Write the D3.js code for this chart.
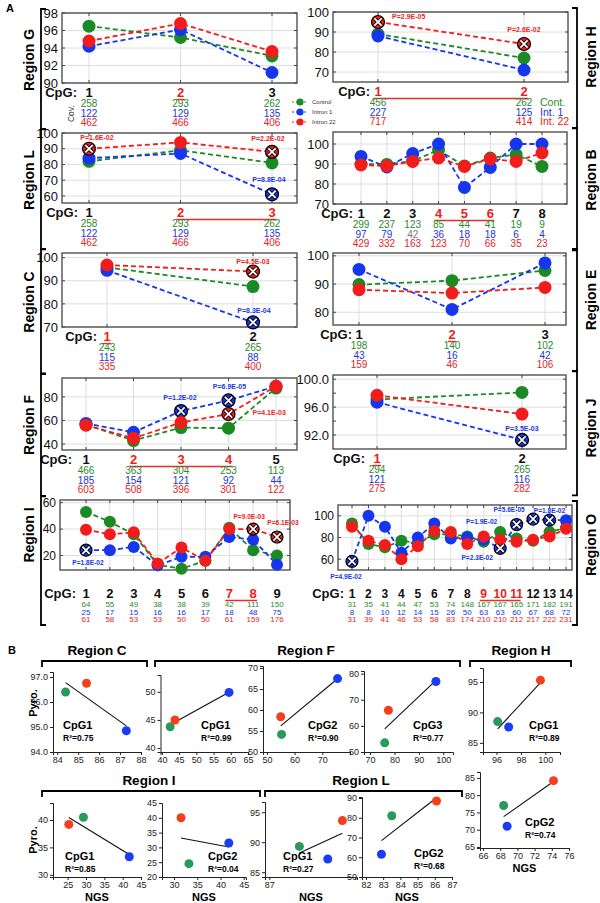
<!DOCTYPE html>
<html>
<head>
<meta charset="utf-8">
<script src="https://cdn.jsdelivr.net/npm/d3@7"></script>
<style>
body { margin: 0; background: #fff; }
</style>
</head>
<body>
<script>
// ---------- panel A: methylation (%) per CpG; series order = control, intron 1, intron 22
var cpgG = ["1", "2", "3"];
var ctrlG = [96.5, 95.2, 93.1], int1G = [94.2, 96.1, 91.2], int22G = [94.8, 96.8, 93.6];
var covG = [[258, 293, 262], [122, 129, 135], [462, 466, 406]];
var sigG = ["2"], pvalG = [];

var cpgH = ["1", "2"];
var ctrlH = [89, 77], int1H = [88, 71], int22H = [95, 84];
var covH = [[456, 262], [227, 125], [717, 414]];
var sigH = ["1", "2"];
var pvalH = [{cpg: "1", s: 2, p: "P=2.9E-05"}, {cpg: "2", s: 2, p: "P=2.6E-02"}];

var cpgL = ["1", "2", "3"];
var ctrlL = [82, 89, 81], int1L = [84, 87, 61], int22L = [90, 94, 88];
var covL = [[258, 293, 262], [122, 129, 135], [462, 466, 406]];
var sigL = ["2", "3"];
var pvalL = [{cpg: "1", s: 2, p: "P=1.6E-02"}, {cpg: "3", s: 2, p: "P=2.2E-02"}, {cpg: "3", s: 1, p: "P=8.8E-04"}];

var cpgB = ["1", "2", "3", "4", "5", "6", "7", "8"];
var ctrlB = [90, 89.8, 91.5, 97, 89, 93, 94.7, 88.8];
var int1B = [93.8, 88.5, 95.2, 100, 78.3, 88.3, 100, 100];
var int22B = [89.5, 89, 91.3, 93, 88.8, 92.5, 91.3, 95.5];
var covB = [[299, 237, 123, 85, 44, 41, 19, 9], [97, 79, 42, 36, 18, 18, 6, 4], [429, 332, 163, 123, 70, 66, 35, 23]];
var sigB = ["4", "5", "6"], pvalB = [];

var cpgC = ["1", "2"];
var ctrlC = [95.8, 87.5], int1C = [94.5, 72], int22C = [96.8, 94];
var covC = [[243, 265], [115, 88], [335, 400]];
var sigC = ["1"];
var pvalC = [{cpg: "2", s: 2, p: "P=4.5E-03"}, {cpg: "2", s: 1, p: "P=8.3E-04"}];

var cpgE = ["1", "2", "3"];
var ctrlE = [89.8, 91.2, 94.8], int1E = [95.2, 81, 97.5], int22E = [88, 86.8, 88.8];
var covE = [[198, 140, 102], [43, 16, 42], [159, 46, 106]];
var sigE = ["2"], pvalE = [];

var cpgF = ["1", "2", "3", "4", "5"];
var ctrlF = [56.5, 43, 54, 53.5, 87.5], int1F = [57.5, 50, 68, 77, 89], int22F = [56, 45, 58.3, 65.5, 89];
var covF = [[466, 363, 304, 253, 113], [185, 154, 121, 92, 44], [603, 508, 396, 301, 122]];
var sigF = ["2", "3", "4"];
var pvalF = [{cpg: "3", s: 1, p: "P=1.2E-02"}, {cpg: "4", s: 1, p: "P=6.9E-05"}, {cpg: "4", s: 2, p: "P=4.1E-03"}];

var cpgJ = ["1", "2"];
var ctrlJ = [97.1, 98.1], int1J = [96.7, 91.3], int22J = [97.7, 95];
var covJ = [[294, 265], [121, 116], [275, 282]];
var sigJ = ["1"];
var pvalJ = [{cpg: "2", s: 1, p: "P=3.5E-03"}];

var cpgI = ["1", "2", "3", "4", "5", "6", "7", "8", "9"];
var ctrlI = [53, 45.5, 36, 13, 10, 16, 41, 24, 20];
var int1I = [24, 24, 26.5, 12.5, 19, 19, 34, 32, 13];
var int22I = [39.5, 36, 37.5, 14, 26, 16, 40, 40, 34];
var covI = [[64, 55, 49, 38, 38, 39, 42, 111, 150], [25, 17, 15, 16, 16, 17, 18, 48, 75], [61, 58, 53, 53, 50, 50, 61, 159, 176]];
var sigI = ["7", "8"];
var pvalI = [{cpg: "1", s: 1, p: "P=1.8E-02"}, {cpg: "8", s: 2, p: "P=9.0E-03"}, {cpg: "9", s: 2, p: "P=6.1E-03"}];

var cpgO = ["1", "2", "3", "4", "5", "6", "7", "8", "9", "10", "11", "12", "13", "14"];
var ctrlO = [93, 74, 71, 77, 75, 83, 83, 81, 76, 85, 79, 77, 85, 89];
var int1O = [58, 100, 90, 66, 80, 93, 79, 80, 78, 70, 92, 97, 96, 96];
var int22O = [90, 77, 73, 60, 72, 86, 85, 74, 81, 78, 76, 78, 81, 88];
var covO = [[31, 35, 41, 44, 47, 53, 74, 148, 167, 167, 165, 171, 182, 191],
            [8, 8, 10, 12, 14, 15, 26, 50, 63, 63, 60, 67, 68, 72],
            [31, 39, 41, 46, 53, 58, 83, 174, 210, 210, 212, 217, 222, 231]];
var sigO = ["9", "10", "11"];
var pvalO = [{cpg: "1", s: 1, p: "P=4.9E-02"}, {cpg: "10", s: 1, p: "P=2.3E-02"}, {cpg: "11", s: 1, p: "P=1.9E-02"},
             {cpg: "12", s: 1, p: "P=5.6E-05"}, {cpg: "13", s: 1, p: "P=1.8E-02"}];

var seriesNames = ["Control", "Intron 1", "Intron 22"];
var seriesTags = ["Cont.", "Int. 1", "Int. 22"];

// ---------- panel B: NGS (x) vs pyrosequencing (y); order = control, intron 1, intron 22
var ngsC1 = [84.4, 87.3, 85.4], pyroC1 = [96.4, 94.85, 96.75];
var ngsF1 = [42.4, 59.5, 43.8], pyroF1 = [43.8, 49.9, 45];
var ngsF2 = [55.3, 75.5, 55], pyroF2 = [54.2, 67.5, 58.4];
var ngsF3 = [76, 97, 77.5], pyroF3 = [53.5, 77, 66];
var ngsH1 = [96.1, 97, 99.6], pyroH1 = [88.5, 87.6, 95.3];
var ngsI1 = [29.3, 41.8, 25.3], pyroI1 = [40.5, 33.3, 39.2];
var ngsI2 = [33.2, 41.8, 31.5], pyroI2 = [24.5, 31.5, 40];
var ngsL1 = [87.35, 87.68, 87.85], pyroL1 = [89.3, 87.2, 93.6];
var ngsL2 = [83.5, 82.9, 86.1], pyroL2 = [81, 61.5, 88.5];
var ngsH2 = [68.4, 68.8, 74.2], pyroH2 = [77, 71, 84.2];
var scatCpg = ["CpG1", "CpG1", "CpG2", "CpG3", "CpG1", "CpG1", "CpG2", "CpG1", "CpG2", "CpG2"];
var scatR2 = ["0.75", "0.99", "0.90", "0.77", "0.89", "0.85", "0.04", "0.27", "0.68", "0.74"];

// ---------- drawing
var FONT = "'Liberation Sans', Arial, sans-serif";
var NARROW = "'Liberation Sans Narrow', 'Liberation Sans', Arial, sans-serif";
var COL = ["#1b8a24", "#1636ee", "#f31c1c"];
var COVCOL = ["#2b8a2b", "#2233dd", "#e62424"];
var BCOL = ["#2a9a5c", "#1a3cf5", "#f2401e"];

var svg = d3.select("body").append("svg")
  .attr("width", 600).attr("height", 903)
  .style("font-family", FONT);

var panelsA = [
  {cpg: cpgG, vals: [ctrlG, int1G, int22G], cov: covG, sig: sigG, pv: pvalG, name: "Region G",
   side: "L", x0: 62, x1: 297, y0: 13, y1: 83, xr: [89, 272], yd: [90, 98], ticks: [90, 92, 94, 96, 98],
   cpgEnd: 77, labY: 60, covLabel: true, pOff: []},
  {cpg: cpgH, vals: [ctrlH, int1H, int22H], cov: covH, sig: sigH, pv: pvalH, name: "Region H",
   side: "R", x0: 333, x1: 568, y0: 12, y1: 82, xr: [378, 524], yd: [65, 100], ticks: [70, 80, 90, 100],
   cpgEnd: 370, labY: 57, covTags: true, pOff: [[14, -3, "start"], [0, -12]]},
  {cpg: cpgL, vals: [ctrlL, int1L, int22L], cov: covL, sig: sigL, pv: pvalL, name: "Region L",
   side: "L", x0: 62, x1: 297, y0: 133, y1: 203, xr: [89, 272], yd: [55.5, 100], ticks: [60, 70, 80, 90, 100],
   cpgEnd: 78, labY: 180, pOff: [[8, -8.5], [-4, -11], [-3, -12]]},
  {cpg: cpgB, vals: [ctrlB, int1B, int22B], cov: covB, sig: sigB, pv: pvalB, name: "Region B",
   side: "R", x0: 333, x1: 567, y0: 132, y1: 204, xr: [361, 542], yd: [70, 106], ticks: [70, 80, 90, 100],
   cpgEnd: 353, labY: 180, grayCov: [1, 2], pOff: []},
  {cpg: cpgC, vals: [ctrlC, int1C, int22C], cov: covC, sig: sigC, pv: pvalC, name: "Region C",
   side: "L", x0: 62, x1: 297, y0: 253, y1: 327, xr: [107, 253], yd: [70, 102], ticks: [70, 80, 90, 100],
   cpgEnd: 97, labY: 302, pOff: [[0, -7.5], [1, -9]]},
  {cpg: cpgE, vals: [ctrlE, int1E, int22E], cov: covE, sig: sigE, pv: pvalE, name: "Region E",
   side: "R", x0: 333, x1: 566, y0: 253, y1: 325, xr: [359, 545], yd: [75.5, 101], ticks: [80, 90, 100],
   cpgEnd: 352, labY: 300, pOff: []},
  {cpg: cpgF, vals: [ctrlF, int1F, int22F], cov: covF, sig: sigF, pv: pvalF, name: "Region F",
   side: "L", x0: 62, x1: 297, y0: 378, y1: 450, xr: [86, 276], yd: [35, 96], ticks: [40, 60, 80],
   cpgEnd: 72, labY: 425, pOff: [[-1, -11.5], [1, -11], [24, 1, "start"]]},
  {cpg: cpgJ, vals: [ctrlJ, int1J, int22J], cov: covJ, sig: sigJ, pv: pvalJ, name: "Region J",
   side: "R", x0: 333, x1: 566, y0: 375, y1: 449, xr: [377, 522], yd: [90, 100.6], ticks: [92, 96, 100],
   fmt: ".1f", minor: [92, 94, 96, 98, 100], cpgEnd: 365, labY: 428, pOff: [[0, -8.5]]},
  {cpg: cpgI, vals: [ctrlI, int1I, int22I], cov: covI, sig: sigI, pv: pvalI, name: "Region I",
   side: "L", x0: 60, x1: 290, y0: 500, y1: 570, xr: [86, 277], yd: [9, 62], ticks: [20, 40, 60],
   cpgEnd: 76, labY: 535, small: true, pOff: [[2, 15], [-4, -10.5], [6, -11.5]]},
  {cpg: cpgO, vals: [ctrlO, int1O, int22O], cov: covO, sig: sigO, pv: pvalO, name: "Region O",
   side: "R", x0: 338, x1: 572, y0: 505, y1: 570, xr: [352, 566], yd: [50, 110], ticks: [60, 80, 100],
   cpgEnd: 344, labY: 545, small: true, pOff: [[-6, 18], [-23, 12], [-35, -1], [-24, -7], [0, -7]]}
];

function drawProfile(p) {
  var g = svg.append("g");
  var x = d3.scalePoint().domain(p.cpg).range(p.xr);
  var y = d3.scaleLinear().domain(p.yd).range([p.y1, p.y0]);
  var R = p.small ? 6 : 6.5;

  // grid
  g.append("g").selectAll("line").data(p.cpg).join("line")
    .attr("x1", function(d) { return x(d); }).attr("x2", function(d) { return x(d); })
    .attr("y1", p.y0).attr("y2", p.y1).attr("stroke", "#dedede");
  g.append("g").selectAll("line").data(p.ticks).join("line")
    .attr("x1", p.x0).attr("x2", p.x1)
    .attr("y1", function(d) { return y(d); }).attr("y2", function(d) { return y(d); })
    .attr("stroke", "#dedede");

  var ax = g.append("g").attr("transform", "translate(" + p.x0 + ",0)")
    .call(d3.axisLeft(y).tickValues(p.ticks).tickFormat(d3.format(p.fmt || "d")).tickSize(0).tickPadding(4));
  ax.select(".domain").remove();
  ax.selectAll("text").attr("font-size", p.small ? 12 : 13).attr("font-family", FONT).attr("fill", "#111");

  g.append("rect").attr("x", p.x0).attr("y", p.y0)
    .attr("width", p.x1 - p.x0).attr("height", p.y1 - p.y0)
    .attr("fill", "none").attr("stroke", "#444").attr("stroke-width", 1.3);
  var tk = g.append("g").attr("stroke", "#444");
  p.cpg.forEach(function(d) {
    tk.append("line").attr("x1", x(d)).attr("x2", x(d)).attr("y1", p.y0).attr("y2", p.y0 + 3);
    tk.append("line").attr("x1", x(d)).attr("x2", x(d)).attr("y1", p.y1 - 3).attr("y2", p.y1);
  });
  (p.minor || p.ticks).forEach(function(v) {
    tk.append("line").attr("x1", p.x0).attr("x2", p.x0 + 3).attr("y1", y(v)).attr("y2", y(v));
    tk.append("line").attr("x1", p.x1 - 3).attr("x2", p.x1).attr("y1", y(v)).attr("y2", y(v));
  });

  // dashed profiles
  var line = d3.line().x(function(d, i) { return x(p.cpg[i]); }).y(function(d) { return y(d); });
  p.vals.forEach(function(s, k) {
    g.append("path").attr("d", line(s)).attr("fill", "none")
      .attr("stroke", COL[k]).attr("stroke-width", 1.8).attr("stroke-dasharray", "5,3");
  });
  var marked = p.pv.map(function(q) { return q.s + ":" + q.cpg; });
  p.vals.forEach(function(s, k) {
    g.append("g").selectAll("circle").data(s).join("circle")
      .attr("cx", function(d, i) { return x(p.cpg[i]); })
      .attr("cy", function(d) { return y(d); })
      .attr("r", R).attr("fill", COL[k])
      .attr("stroke", function(d, i) { return marked.indexOf(k + ":" + p.cpg[i]) >= 0 ? "#000" : "none"; })
      .attr("stroke-width", 1.2);
  });

  // significant points: X marker + P value
  p.pv.forEach(function(q, j) {
    var cx = x(q.cpg), cy = y(p.vals[q.s][p.cpg.indexOf(q.cpg)]);
    var xm = g.append("g").attr("transform", "translate(" + cx + "," + cy + ")");
    var cross = "M-3.6,-3.6L3.6,3.6M-3.6,3.6L3.6,-3.6";
    xm.append("path").attr("d", cross).attr("stroke", "#000").attr("stroke-width", 3.6);
    xm.append("path").attr("d", cross).attr("stroke", "#fff").attr("stroke-width", 1.8);
    var o = p.pOff[j];
    g.append("text").attr("x", cx + o[0]).attr("y", cy + o[1])
      .attr("text-anchor", o[2] || "middle")
      .attr("font-size", p.small ? 6.6 : 7).attr("font-weight", "bold")
      .attr("fill", COL[q.s]).text(q.p);
  });

  // CpG row
  var cpgY = p.y1 + (p.small ? 28 : 14);
  g.append("text").attr("x", p.cpgEnd).attr("y", cpgY).attr("text-anchor", "end")
    .attr("font-size", 13).attr("font-weight", "bold").attr("fill", "#111").text("CpG:");
  g.append("g").selectAll("text").data(p.cpg).join("text")
    .attr("x", function(d) { return x(d); }).attr("y", cpgY)
    .attr("text-anchor", "middle").attr("font-size", p.small && p.cpg.length > 10 ? 12 : 13).attr("font-weight", "bold")
    .attr("fill", function(d) { return p.sig.indexOf(d) >= 0 ? "#ee1c1c" : "#111"; })
    .text(function(d) { return d; });
  if (p.sig.length) {
    g.append("line")
      .attr("x1", x(p.sig[0]) - 4).attr("x2", x(p.sig[p.sig.length - 1]) + 4)
      .attr("y1", cpgY + 2.5).attr("y2", cpgY + 2.5)
      .attr("stroke", "#ee2a2a").attr("stroke-width", 1.4);
  }

  // coverage rows
  var covY = p.small ? [cpgY + 9, cpgY + 16.5, cpgY + 24] : [cpgY + 10, cpgY + 19.7, cpgY + 29.4];
  p.cov.forEach(function(row, k) {
    g.append("g").selectAll("text").data(row).join("text")
      .attr("x", function(d, i) { return x(p.cpg[i]); }).attr("y", covY[k])
      .attr("text-anchor", "middle")
      .attr("font-family", p.small ? NARROW : FONT)
      .attr("font-size", p.small ? 8 : 10)
      .attr("fill", function(d, i) { return p.grayCov && p.grayCov[0] === k && p.grayCov[1] === i ? "#777" : COVCOL[k]; })
      .text(function(d) { return d; });
    if (p.covTags) {
      g.append("text").attr("x", 540).attr("y", covY[k]).attr("font-size", 10.5)
        .attr("fill", COVCOL[k]).text(seriesTags[k]);
    }
  });
  if (p.covLabel) {
    g.append("text").attr("transform", "translate(74," + (covY[1] - 3) + ") rotate(-90)")
      .attr("text-anchor", "middle").attr("font-size", 8.5).attr("fill", "#333").text("Cov.");
  }

  // bracket and region label
  var top = p.y0 - 4, bot = covY[2] + 3;
  var bx = p.side === "L" ? 41 : 577, dir = p.side === "L" ? 5 : -5;
  g.append("path")
    .attr("d", "M" + (bx + dir) + "," + top + "H" + bx + "V" + bot + "H" + (bx + dir))
    .attr("fill", "none").attr("stroke", "#000").attr("stroke-width", 1.8);
  g.append("text")
    .attr("transform", "translate(" + (p.side === "L" ? 34 : 596) + "," + p.labY + ") rotate(-90)")
    .attr("text-anchor", "middle").attr("font-size", 14).attr("font-weight", "bold")
    .text(p.name);
}

panelsA.forEach(drawProfile);

// legend between G and H
var leg = svg.append("g");
seriesNames.forEach(function(n, k) {
  var ly = 102 + k * 10;
  leg.append("line").attr("x1", 292).attr("x2", 308).attr("y1", ly).attr("y2", ly)
    .attr("stroke", COL[k]).attr("stroke-width", 1.2).attr("stroke-dasharray", "2,2");
  leg.append("circle").attr("cx", 300).attr("cy", ly).attr("r", 3.6).attr("fill", COL[k]);
  leg.append("text").attr("x", 312).attr("y", ly + 2).attr("font-size", 6).attr("fill", "#333").text(n);
});

svg.append("text").attr("x", 6).attr("y", 12).attr("font-size", 11).attr("font-weight", "bold").text("A");
svg.append("text").attr("x", 8).attr("y", 654).attr("font-size", 11).attr("font-weight", "bold").text("B");

// ---------- panel B scatter plots
var scatters = [
  {ngs: ngsC1, pyro: pyroC1, x0: 53, x1: 141, xd: [83.8, 88], xt: [84, 85, 86, 87, 88],
   y0: 672, y1: 752, yd: [94, 97.2], yt: [94, 95, 96, 97], lx: 63, ly: 729},
  {ngs: ngsF1, pyro: pyroF1, x0: 160.5, x1: 248, xd: [39.6, 65], xt: [40, 45, 50, 55, 60, 65],
   y0: 675, y1: 752, yd: [39.3, 53], yt: [40, 45, 50], lx: 201, ly: 729},
  {ngs: ngsF2, pyro: pyroF2, x0: 263, x1: 350, xd: [48.6, 80], xt: [50, 60, 70, 80], hide: [80],
   y0: 666, y1: 752, yd: [50, 70.5], yt: [50, 55, 60, 65, 70], lx: 308, ly: 729},
  {ngs: ngsF3, pyro: pyroF3, x0: 364, x1: 453, xd: [67.5, 104], xt: [70, 80, 90, 100],
   y0: 671, y1: 752, yd: [50, 81], yt: [50, 60, 70, 80], lx: 413, ly: 729},
  {ngs: ngsH1, pyro: pyroH1, x0: 483, x1: 560, xd: [94.9, 101.2], xt: [96, 98, 100],
   y0: 668, y1: 752, yd: [83.5, 97.3], yt: [85, 90, 95], lx: 529, ly: 729},
  {ngs: ngsI1, pyro: pyroI1, x0: 53, x1: 141, xd: [21, 45], xt: [25, 30, 35, 40, 45],
   y0: 803, y1: 877, yd: [29.6, 43.1], yt: [30, 35, 40], lx: 65, ly: 860, ngsY: 901},
  {ngs: ngsI2, pyro: pyroI2, x0: 162, x1: 246, xd: [27.4, 45.5], xt: [30, 35, 40, 45],
   y0: 803, y1: 877, yd: [20, 45], yt: [20, 25, 30, 35, 40, 45], lx: 208, ly: 860, ngsY: 901},
  {ngs: ngsL1, pyro: pyroL1, x0: 265, x1: 357, xd: [86.95, 88.02], xt: [87, 88], hide: [88],
   y0: 802, y1: 877, yd: [84.2, 96.7], yt: [85, 90, 95], lx: 283, ly: 860, ngsY: 901},
  {ngs: ngsL2, pyro: pyroL2, x0: 362, x1: 452, xd: [81.77, 87], xt: [82, 83, 84, 85, 86, 87],
   y0: 797, y1: 877, yd: [50, 90.5], yt: [50, 60, 70, 80, 90], lx: 414, ly: 857, ngsY: 901},
  {ngs: ngsH2, pyro: pyroH2, x0: 480, x1: 569, xd: [65.65, 76], xt: [66, 68, 70, 72, 74, 76],
   y0: 772, y1: 848, yd: [64.7, 86.7], yt: [65, 70, 75, 80, 85], lx: 525, ly: 826, ngsY: 872}
];

function fitLine(xs, ys) {
  var mx = d3.mean(xs), my = d3.mean(ys);
  var b = d3.sum(xs, function(v, i) { return (v - mx) * (ys[i] - my); }) /
          d3.sum(xs, function(v) { return (v - mx) * (v - mx); });
  return function(v) { return my + b * (v - mx); };
}

scatters.forEach(function(c, n) {
  var g = svg.append("g");
  var x = d3.scaleLinear().domain(c.xd).range([c.x0, c.x1]);
  var y = d3.scaleLinear().domain(c.yd).range([c.y1, c.y0]);
  var hide = c.hide || [];
  var xa = g.append("g").attr("transform", "translate(0," + c.y1 + ")")
    .call(d3.axisBottom(x).tickValues(c.xt).tickSizeOuter(0).tickSize(3).tickPadding(2)
      .tickFormat(function(d) { return hide.indexOf(d) >= 0 ? "" : d; }));
  var ya = g.append("g").attr("transform", "translate(" + c.x0 + ",0)")
    .call(d3.axisLeft(y).tickValues(c.yt).tickSizeOuter(0).tickSize(3).tickPadding(2));
  [xa, ya].forEach(function(a) {
    a.selectAll("text").attr("font-size", 9).attr("font-family", NARROW).attr("fill", "#222");
    a.selectAll("path,line").attr("stroke", "#222");
  });

  var f = fitLine(c.ngs, c.pyro);
  var lo = d3.min(c.ngs), hi = d3.max(c.ngs);
  g.append("line").attr("x1", x(lo)).attr("y1", y(f(lo))).attr("x2", x(hi)).attr("y2", y(f(hi)))
    .attr("stroke", "#111").attr("stroke-width", 1.1);
  g.selectAll("circle").data(c.ngs).join("circle")
    .attr("cx", function(d) { return x(d); })
    .attr("cy", function(d, i) { return y(c.pyro[i]); })
    .attr("r", 4.5).attr("fill", function(d, i) { return BCOL[i]; });

  g.append("text").attr("x", c.lx).attr("y", c.ly).attr("font-size", 11).attr("font-weight", "bold").text(scatCpg[n]);
  g.append("text").attr("x", c.lx).attr("y", c.ly + 12).attr("font-size", 8.5).attr("font-weight", "bold").text("R²=" + scatR2[n]);
  if (c.ngsY) {
    g.append("text").attr("x", (c.x0 + c.x1) / 2).attr("y", c.ngsY).attr("text-anchor", "middle")
      .attr("font-size", 11).attr("font-weight", "bold").text("NGS");
  }
});

[703, 840].forEach(function(cy) {
  svg.append("text").attr("transform", "translate(37," + cy + ") rotate(-90)")
    .attr("text-anchor", "middle").attr("font-size", 11).attr("font-weight", "bold").text("Pyro.");
});

var bTitles = [
  {t: "Region C", cx: 97, y: 655, a: 42, b: 147},
  {t: "Region F", cx: 306, y: 655, a: 155, b: 460},
  {t: "Region H", cx: 521, y: 655, a: 470, b: 571},
  {t: "Region I", cx: 149, y: 785, a: 42, b: 260},
  {t: "Region L", cx: 361, y: 785, a: 265, b: 462}
];
bTitles.forEach(function(d) {
  svg.append("text").attr("x", d.cx).attr("y", d.y).attr("text-anchor", "middle")
    .attr("font-size", 13.5).attr("font-weight", "bold").text(d.t);
  var by = d.y + 6;
  svg.append("path").attr("d", "M" + d.a + "," + (by + 6) + "V" + by + "H" + d.b + "V" + (by + 6))
    .attr("fill", "none").attr("stroke", "#000").attr("stroke-width", 1.8);
});
</script>
</body>
</html>
